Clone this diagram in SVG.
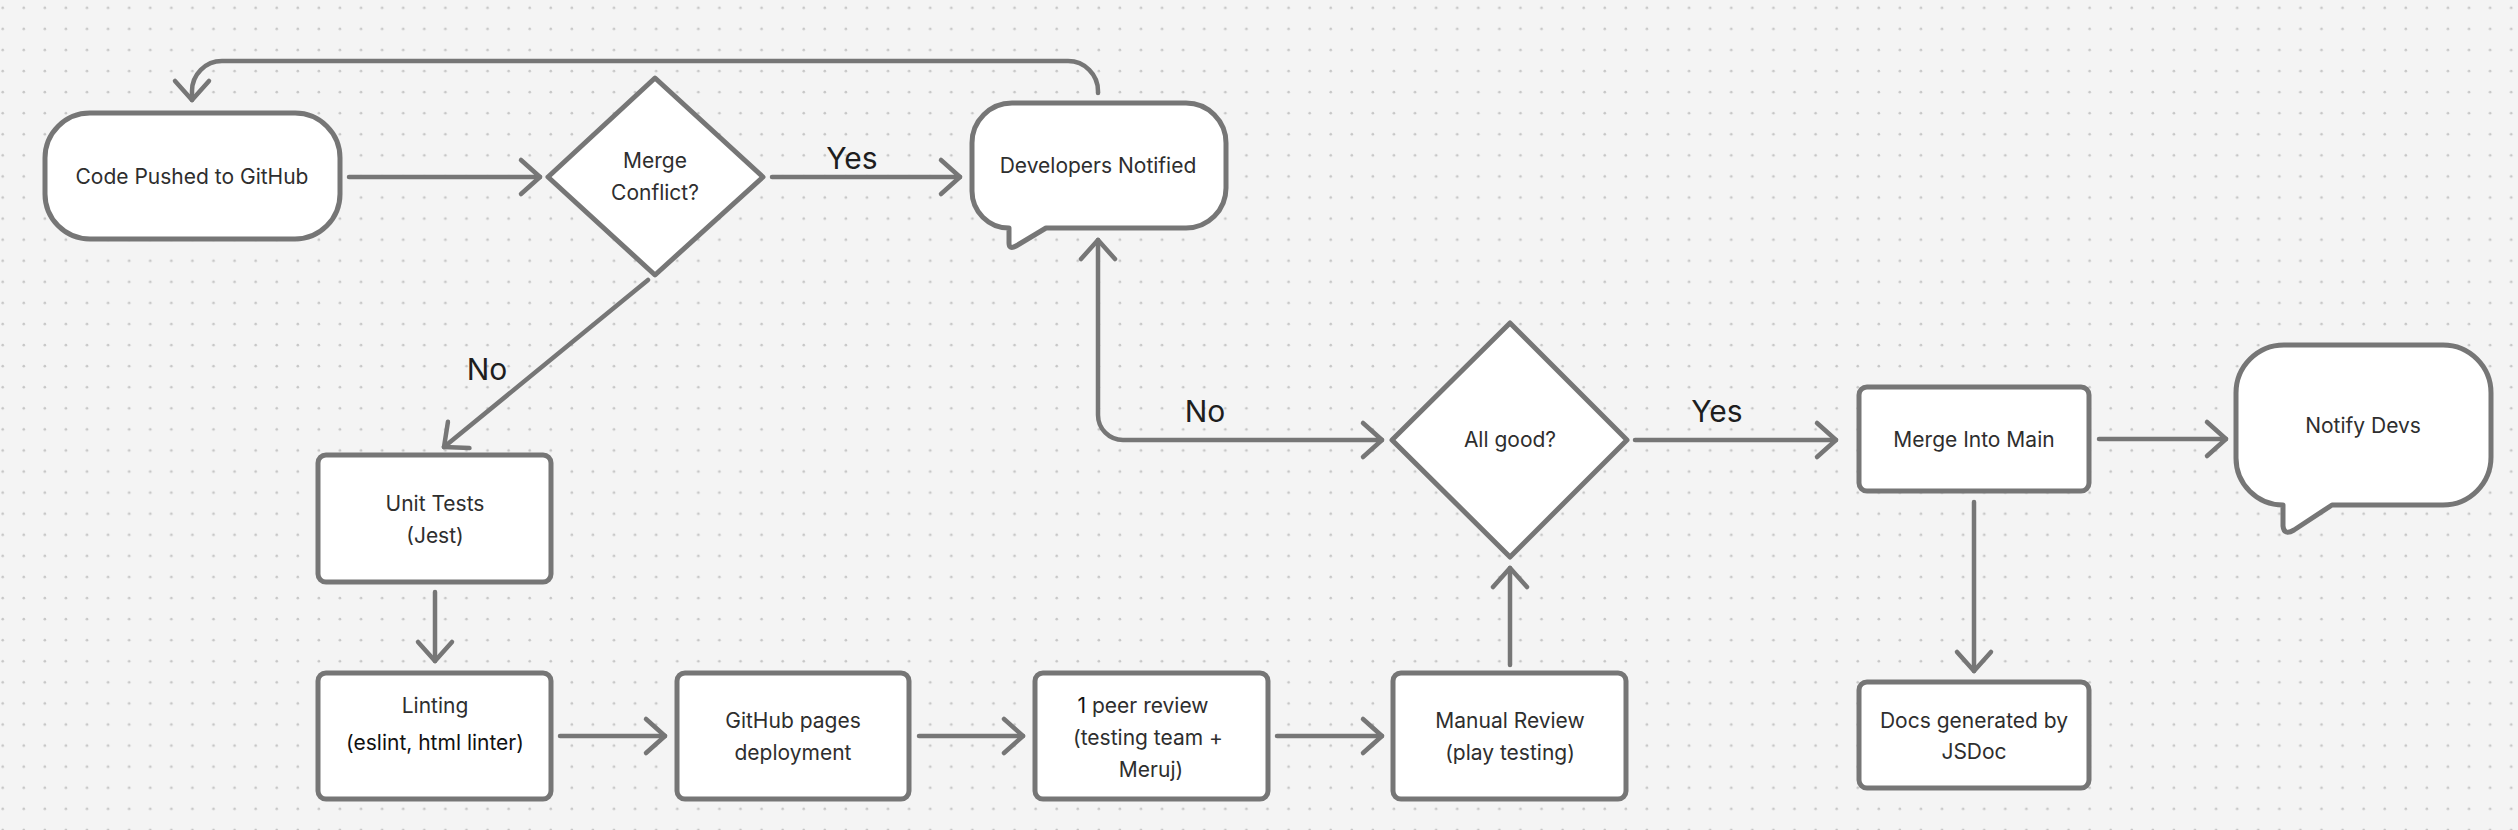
<svg xmlns="http://www.w3.org/2000/svg" width="2518" height="830" viewBox="0 0 2518 830">
<defs>
<pattern id="dots" patternUnits="userSpaceOnUse" x="0" y="0" width="21.08" height="21.08">
<circle cx="2.7" cy="7.8" r="1.3" fill="#c6c6c6"/>
</pattern>
<marker id="arr" markerUnits="userSpaceOnUse" markerWidth="50" markerHeight="50" viewBox="-25 -25 50 50" refX="0" refY="0" orient="auto-start-reverse" overflow="visible">
<path d="M-19,-17 L0,0 L-19,17" fill="none" stroke="#767676" stroke-width="4.5" stroke-linecap="round" stroke-linejoin="round"/>
</marker>
<style>
.shape{fill:#ffffff;stroke:#767676;stroke-width:5;stroke-linejoin:round}
.conn{fill:none;stroke:#767676;stroke-width:4.5;stroke-linecap:round;stroke-linejoin:round}
.t{font-family:Inter,"Noto Sans","Liberation Sans",sans-serif;font-size:21px;fill:#2e2e2e;text-anchor:middle}
.lbl{font-family:Inter,"Noto Sans","Liberation Sans",sans-serif;font-size:30px;fill:#1e1e1e;text-anchor:middle}
.dk{fill:#111111}
</style>
</defs>
<rect x="0" y="0" width="2518" height="830" fill="#f4f4f4"/>
<rect x="0" y="0" width="2518" height="830" fill="url(#dots)"/>

<g id="connectors">
<path class="conn" d="M349,177 L540,177" marker-end="url(#arr)"/>
<path class="conn" d="M772,177 L960,177" marker-end="url(#arr)"/>
<path class="conn" d="M648,280 L444,447" marker-end="url(#arr)"/>
<path class="conn" d="M435,592 L435,661" marker-end="url(#arr)"/>
<path class="conn" d="M560,736 L665,736" marker-end="url(#arr)"/>
<path class="conn" d="M919,736 L1023,736" marker-end="url(#arr)"/>
<path class="conn" d="M1277,736 L1382,736" marker-end="url(#arr)"/>
<path class="conn" d="M1510,665 L1510,568" marker-end="url(#arr)"/>
<path class="conn" d="M1635,440 L1836,440" marker-end="url(#arr)"/>
<path class="conn" d="M2099,439 L2226,439" marker-end="url(#arr)"/>
<path class="conn" d="M1974,502 L1974,671" marker-end="url(#arr)"/>
<path class="conn" d="M1098,93 L1098,91 A30,30 0 0 0 1068,61 L222,61 A30,30 0 0 0 192,91 L192,100" marker-end="url(#arr)"/>
<path class="conn" d="M1098,240 L1098,415 A25,25 0 0 0 1123,440 L1382,440" marker-start="url(#arr)" marker-end="url(#arr)"/>
<text class="lbl" x="852" y="169">Yes</text>
<text class="lbl" x="487" y="380">No</text>
<text class="lbl" x="1205" y="422">No</text>
<text class="lbl" x="1717" y="422">Yes</text>
</g>

<g id="code-pushed">
<rect class="shape" x="45" y="113" width="295" height="126" rx="45" ry="45"/>
<text class="t" x="192" y="184">Code Pushed to GitHub</text>
</g>

<g id="merge-conflict">
<polygon class="shape" points="655,78 763,177 655,275 548,177"/>
<text class="t" x="655" y="168">Merge</text>
<text class="t" x="655" y="200">Conflict?</text>
</g>

<g id="developers-notified">
<path class="shape" d="M1012,103 H1186 A40,40 0 0 1 1226,143 V188 A40,40 0 0 1 1186,228 H1046 L1016,246 Q1009,250 1009,243 V228 A37,37 0 0 1 972,191 V143 A40,40 0 0 1 1012,103 Z"/>
<text class="t" x="1098" y="173">Developers Notified</text>
</g>

<g id="unit-tests">
<rect class="shape" x="318" y="455" width="233" height="127" rx="8"/>
<text class="t" x="435" y="511">Unit Tests</text>
<text class="t" x="435" y="543">(Jest)</text>
</g>

<g id="linting">
<rect class="shape" x="318" y="673" width="233" height="126" rx="8"/>
<text class="t" x="435" y="713">Linting</text>
<text class="t dk" x="435" y="750">(eslint, html linter)</text>
</g>

<g id="github-pages">
<rect class="shape" x="677" y="673" width="232" height="126" rx="8"/>
<text class="t" x="793" y="728">GitHub pages</text>
<text class="t" x="793" y="760">deployment</text>
</g>

<g id="peer-review">
<rect class="shape" x="1035" y="673" width="233" height="126" rx="8"/>
<text class="t" x="1143" y="713"><tspan class="dk">1</tspan> peer review</text>
<text class="t" x="1148" y="745">(testing team +</text>
<text class="t" x="1151" y="777">Meruj)</text>
</g>

<g id="manual-review">
<rect class="shape" x="1393" y="673" width="233" height="126" rx="8"/>
<text class="t" x="1510" y="728">Manual Review</text>
<text class="t" x="1510" y="760">(play testing)</text>
</g>

<g id="all-good">
<polygon class="shape" points="1510,323 1627,440 1510,557 1392,440"/>
<text class="t" x="1510" y="447">All good?</text>
</g>

<g id="merge-main">
<rect class="shape" x="1859" y="387" width="230" height="104" rx="8"/>
<text class="t" x="1974" y="447">Merge Into Main</text>
</g>

<g id="notify-devs">
<path class="shape" d="M2284,345 H2443 A48,48 0 0 1 2491,393 V457 A48,48 0 0 1 2443,505 H2332 L2294,530 Q2284,536 2283,526 V505 A47,47 0 0 1 2236,458 V393 A48,48 0 0 1 2284,345 Z"/>
<text class="t" x="2363" y="433">Notify Devs</text>
</g>

<g id="docs">
<rect class="shape" x="1859" y="682" width="230" height="106" rx="8"/>
<text class="t" x="1974" y="728">Docs generated by</text>
<text class="t" x="1974" y="759">JSDoc</text>
</g>
</svg>
